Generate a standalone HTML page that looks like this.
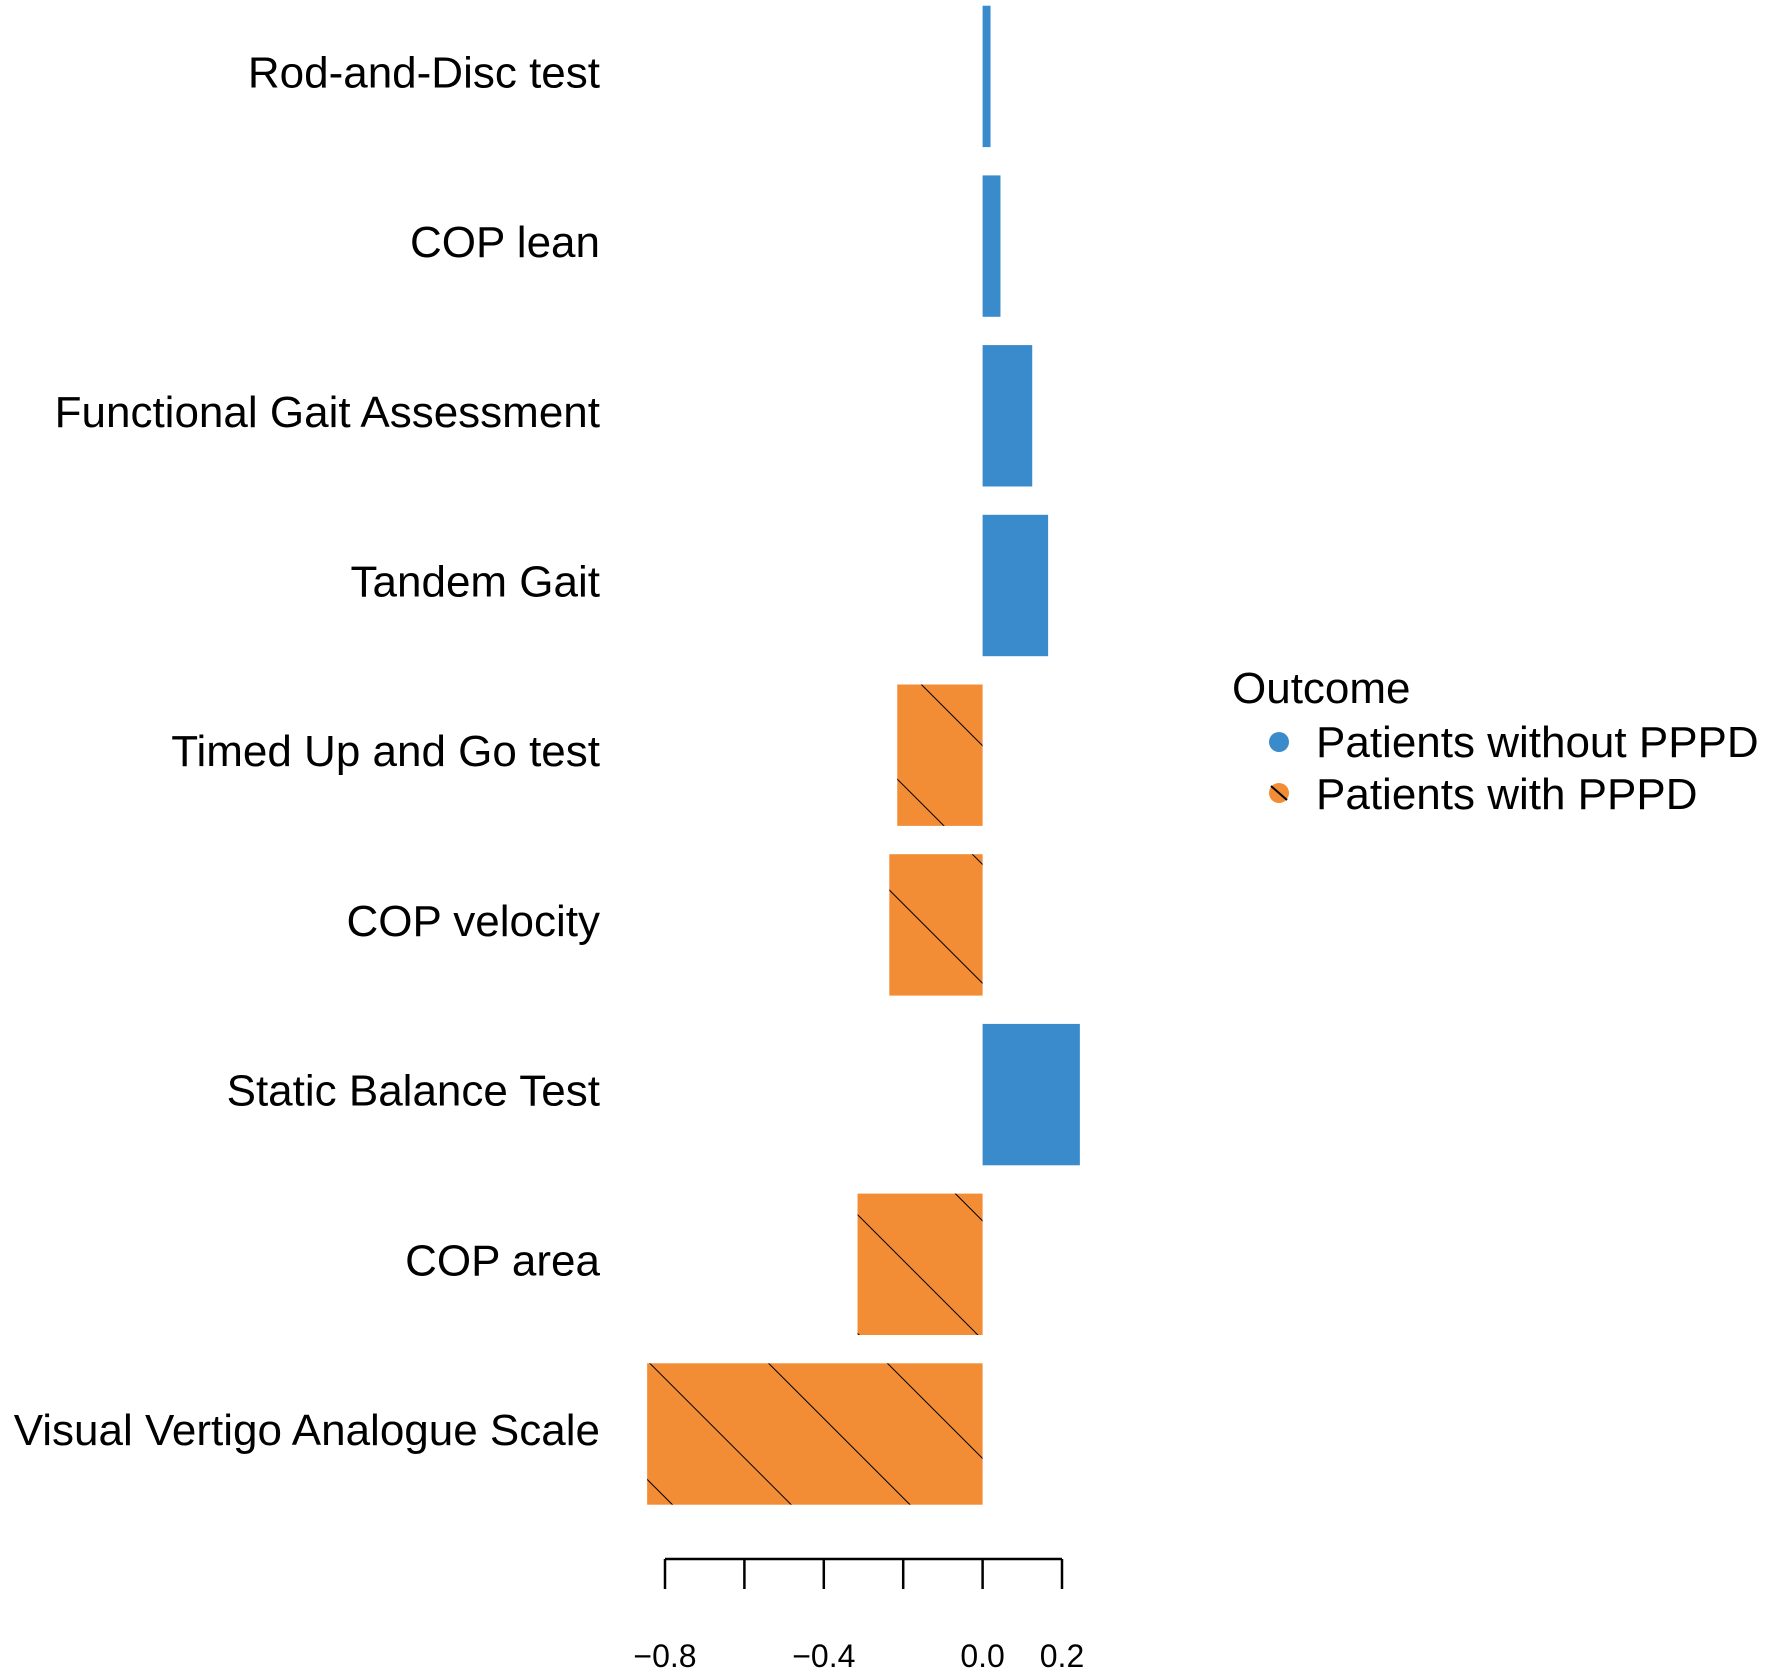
<!DOCTYPE html>
<html><head><meta charset="utf-8"><style>
html,body{margin:0;padding:0;background:#fff;}
svg{display:block;font-family:"Liberation Sans",Arial,sans-serif;}
</style></head><body>
<svg id="chart" width="1772" height="1674" viewBox="0 0 1772 1674" xmlns="http://www.w3.org/2000/svg">
<defs>
<pattern id="hatch" patternUnits="userSpaceOnUse" width="84" height="84" patternTransform="rotate(45)">
<rect width="84" height="84" fill="#F28C35"/>
<line x1="0" y1="0" x2="84" y2="0" stroke="#000" stroke-width="2"/>
</pattern>
</defs>
<g id="bars"></g>
<g id="labels"></g>
<g id="axis"></g>
<g id="legend">
<text x="1232" y="703" font-size="44">Outcome</text>
<circle cx="1279" cy="742" r="10" fill="#3A8BCB"/>
<text x="1316" y="757" font-size="44">Patients without PPPD</text>
<circle cx="1279" cy="793" r="10" fill="#F28C35"/>
<line x1="1271" y1="786" x2="1287" y2="800" stroke="#000" stroke-width="2"/>
<text x="1316" y="809" font-size="44">Patients with PPPD</text>
</g>
</svg>
<script>
const categories = ["Rod-and-Disc test","COP lean","Functional Gait Assessment","Tandem Gait","Timed Up and Go test","COP velocity","Static Balance Test","COP area","Visual Vertigo Analogue Scale"];
const values = [0.02,0.045,0.125,0.165,-0.215,-0.235,0.245,-0.315,-0.845];
const tickValues = [-0.8,-0.6,-0.4,-0.2,0.0,0.2];
const tickLabels = ["\u22120.8","","\u22120.4","","0.0","0.2"];

const NS="http://www.w3.org/2000/svg";
const x0=982.6, pxPer=397;
function xs(v){return x0+v*pxPer;}
const pitch=169.7, barH=141.4, top0=5.7;
function yTop(i){return top0+i*pitch;}
const bars=document.getElementById('bars');
const labels=document.getElementById('labels');
values.forEach((v,i)=>{
  const r=document.createElementNS(NS,'rect');
  const a=xs(Math.min(0,v)), b=xs(Math.max(0,v));
  r.setAttribute('x',a); r.setAttribute('y',yTop(i));
  r.setAttribute('width',b-a); r.setAttribute('height',barH);
  r.setAttribute('fill', v<0?'url(#hatch)':'#3A8BCB');
  
  
  bars.appendChild(r);
  const t=document.createElementNS(NS,'text');
  t.setAttribute('x',600); t.setAttribute('y',yTop(i)+barH/2+11);
  t.setAttribute('text-anchor','end'); t.setAttribute('font-size','44');
  t.textContent=categories[i];
  
  
  labels.appendChild(t);
});
const axis=document.getElementById('axis');
const ay=1559;
const l=document.createElementNS(NS,'line');
l.setAttribute('x1',xs(tickValues[0])); l.setAttribute('x2',xs(tickValues[tickValues.length-1]));
l.setAttribute('y1',ay); l.setAttribute('y2',ay);
l.setAttribute('stroke','#000'); l.setAttribute('stroke-width','2.5');


axis.appendChild(l);
tickValues.forEach((v,i)=>{
  const t=document.createElementNS(NS,'line');
  t.setAttribute('x1',xs(v)); t.setAttribute('x2',xs(v));
  t.setAttribute('y1',ay); t.setAttribute('y2',ay+30);
  t.setAttribute('stroke','#000'); t.setAttribute('stroke-width','2.5');
  
  
  axis.appendChild(t);
  if(tickLabels[i]){
    const tx=document.createElementNS(NS,'text');
    tx.setAttribute('x',xs(v)); tx.setAttribute('y',1667);
    tx.setAttribute('text-anchor','middle'); tx.setAttribute('font-size','32');
    tx.textContent=tickLabels[i];
    
    
    axis.appendChild(tx);
  }
});
</script>
</body></html>
